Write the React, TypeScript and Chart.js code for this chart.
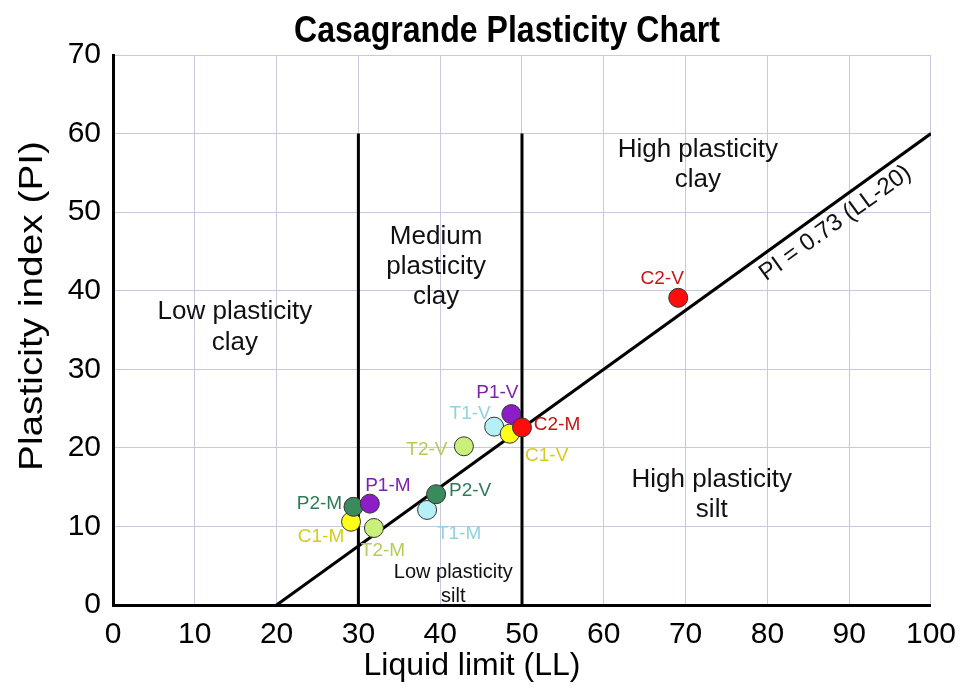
import React, { useEffect, useRef } from "react";
import { Chart, registerables } from "chart.js";

Chart.register(...registerables);

// ---- data ----
const sampleNames = ["T1-V", "C1-V", "P1-V", "C2-M", "T2-V", "T1-M", "P2-V", "C1-M", "P2-M", "P1-M", "T2-M", "C2-V"];
const liquidLimit = [46.6, 48.5, 48.7, 50.0, 42.9, 38.4, 39.5, 29.1, 29.4, 31.4, 31.9, 69.1];
const plasticityIndex = [22.7, 21.8, 24.3, 22.6, 20.2, 12.1, 14.1, 10.6, 12.5, 12.9, 9.8, 39.1];
const pointColors = ["#b4f0f6", "#ffff1a", "#8d1cc9", "#ff0d0d", "#c9f07a", "#b4f0f6", "#3a8a5e", "#ffff1a", "#3a8a5e", "#8d1cc9", "#c9f07a", "#ff0d0d"];
const labelColors = ["#92d3dd", "#d6cc1e", "#7b22a8", "#c41616", "#b3cc5c", "#92d3dd", "#2e7a57", "#d6cc1e", "#2e7a57", "#7b22a8", "#b3cc5c", "#c41616"];
// label offsets from the point centre (pixels)
const labelOffsets: [number, number][] = [
  [-24, -13], [37, 22], [-14, -21], [35, -3], [-37, 3], [32, 24], [34, -3], [-30, 15], [-34, -3], [18, -18], [9, 23], [-16, -19],
];

const aLineLL = [20, 100];
const aLinePI = [0, 60];
const boundaryLL = [30, 50];
const boundaryTop = 60;

const xTicks = [0, 10, 20, 30, 40, 50, 60, 70, 80, 90, 100];
const yTicks = [0, 10, 20, 30, 40, 50, 60, 70];

const regionLabels: { lines: string[]; ll: number; pi: number; size: number; gap: number }[] = [
  { lines: ["Low plasticity", "clay"], ll: 14.9, pi: 35.3, size: 26, gap: 31 },
  { lines: ["Medium", "plasticity", "clay"], ll: 39.5, pi: 43.1, size: 26, gap: 30 },
  { lines: ["High plasticity", "clay"], ll: 71.5, pi: 56.0, size: 26, gap: 30 },
  { lines: ["High plasticity", "silt"], ll: 73.2, pi: 14.0, size: 26, gap: 30 },
  { lines: ["Low plasticity", "silt"], ll: 41.6, pi: 2.6, size: 20, gap: 24 },
];

const titleText = "Casagrande Plasticity Chart";
const xTitle = "Liquid limit (LL)";
const yTitle = "Plasticity index (PI)";
const formulaText = "PI = 0.73 (LL-20)";

const FONT = "'Liberation Sans', Arial, Helvetica, sans-serif";

const textPlugin = {
  id: "textPlugin",
  afterDatasetsDraw(chart: any) {
    const ctx: CanvasRenderingContext2D = chart.ctx;
    const xs = chart.scales.x;
    const ys = chart.scales.y;
    ctx.save();
    ctx.textAlign = "center";
    ctx.textBaseline = "middle";

    // region labels
    ctx.fillStyle = "#111";
    for (const r of regionLabels) {
      ctx.font = `${r.size}px ${FONT}`;
      const cx = xs.getPixelForValue(r.ll);
      const cy = ys.getPixelForValue(r.pi);
      const n = r.lines.length;
      r.lines.forEach((t, i) => {
        ctx.fillText(t, cx, cy + (i - (n - 1) / 2) * r.gap);
      });
    }

    // formula along A-line
    const x1 = xs.getPixelForValue(aLineLL[0]);
    const y1 = ys.getPixelForValue(aLinePI[0]);
    const x2 = xs.getPixelForValue(aLineLL[1]);
    const y2 = ys.getPixelForValue(aLinePI[1]);
    const ang = Math.atan2(y2 - y1, x2 - x1);
    const llA = 87.1;
    const piA = aLinePI[0] + (aLinePI[1] - aLinePI[0]) * (llA - aLineLL[0]) / (aLineLL[1] - aLineLL[0]);
    const px = xs.getPixelForValue(llA);
    const py = ys.getPixelForValue(piA);
    const d = 17;
    ctx.save();
    ctx.translate(px - Math.sin(ang) * d, py + Math.cos(ang) * d);
    ctx.rotate(ang);
    ctx.font = `24px ${FONT}`;
    ctx.fillStyle = "#111";
    ctx.fillText(formulaText, 0, 0);
    ctx.restore();

    // point labels
    ctx.font = `19px ${FONT}`;
    for (let i = 0; i < sampleNames.length; i++) {
      const cx = xs.getPixelForValue(liquidLimit[i]);
      const cy = ys.getPixelForValue(plasticityIndex[i]);
      ctx.fillStyle = labelColors[i];
      ctx.fillText(sampleNames[i], cx + labelOffsets[i][0], cy + labelOffsets[i][1]);
    }

    // title
    ctx.fillStyle = "#000";
    ctx.font = `bold 36px ${FONT}`;
    const tw = ctx.measureText(titleText).width;
    ctx.save();
    ctx.translate(507, 32);
    ctx.scale(426 / tw, 1);
    ctx.fillText(titleText, 0, 0);
    ctx.restore();

    // axis titles
    ctx.font = `32px ${FONT}`;
    ctx.fillText(xTitle, 472, 666);
    ctx.font = `33px ${FONT}`;
    const yw = ctx.measureText(yTitle).width;
    ctx.save();
    ctx.translate(33, 306);
    ctx.rotate(-Math.PI / 2);
    ctx.scale(330 / yw, 1);
    ctx.fillText(yTitle, 0, 0);
    ctx.restore();

    ctx.restore();
  },
};

export default function App() {
  const ref = useRef<HTMLCanvasElement | null>(null);
  useEffect(() => {
    if (!ref.current) return;
    const line = (xv: number[], yv: number[]) => xv.map((x, i) => ({ x, y: yv[i] }));
    const datasets: any[] = [
      {
        label: "A-line",
        data: line(aLineLL, aLinePI),
        showLine: true,
        borderColor: "#000",
        borderWidth: 3,
        pointRadius: 0,
        order: 3,
      },
      ...boundaryLL.map((ll) => ({
        label: "LL " + ll,
        data: line([ll, ll], [0, boundaryTop]),
        showLine: true,
        borderColor: "#000",
        borderWidth: 3,
        pointRadius: 0,
        order: 3,
      })),
      {
        label: "Samples",
        data: line(liquidLimit, plasticityIndex),
        showLine: false,
        pointRadius: 9.5,
        pointBackgroundColor: pointColors,
        pointBorderColor: "#333",
        pointBorderWidth: 1,
        order: 1,
      },
    ];
    const chart = new Chart(ref.current, {
      type: "scatter",
      data: { datasets },
      options: {
        responsive: false,
        animation: false,
        devicePixelRatio: 1,
        layout: { padding: { left: 0, top: 55, right: 37, bottom: 0 } },
        plugins: { legend: { display: false }, tooltip: { enabled: false }, title: { display: false } },
        scales: {
          x: {
            type: "linear",
            min: 0,
            max: 100,
            afterBuildTicks: (s: any) => { s.ticks = xTicks.map((v) => ({ value: v })); },
            afterFit: (s: any) => { s.height = 84; },
            grid: { color: "#c8c8de", lineWidth: 1, drawTicks: false },
            border: { color: "#000", width: 3 },
            ticks: { color: "#000", padding: 12, font: { size: 30, family: FONT } },
          },
          y: {
            type: "linear",
            min: 0,
            max: 70,
            afterBuildTicks: (s: any) => { s.ticks = yTicks.map((v) => ({ value: v })); },
            afterFit: (s: any) => { s.width = 113; },
            grid: { color: "#c8c8de", lineWidth: 1, drawTicks: false },
            border: { color: "#000", width: 3 },
            ticks: { color: "#000", padding: 12, font: { size: 30, family: FONT } },
          },
        },
      },
      plugins: [textPlugin],
    } as any);
    return () => chart.destroy();
  }, []);
  return (
    <div style={{ position: "absolute", left: 0, top: 0, width: 968, height: 689, background: "#fff" }}>
      <canvas ref={ref} width={968} height={689} style={{ width: 968, height: 689, display: "block" }} />
    </div>
  );
}
